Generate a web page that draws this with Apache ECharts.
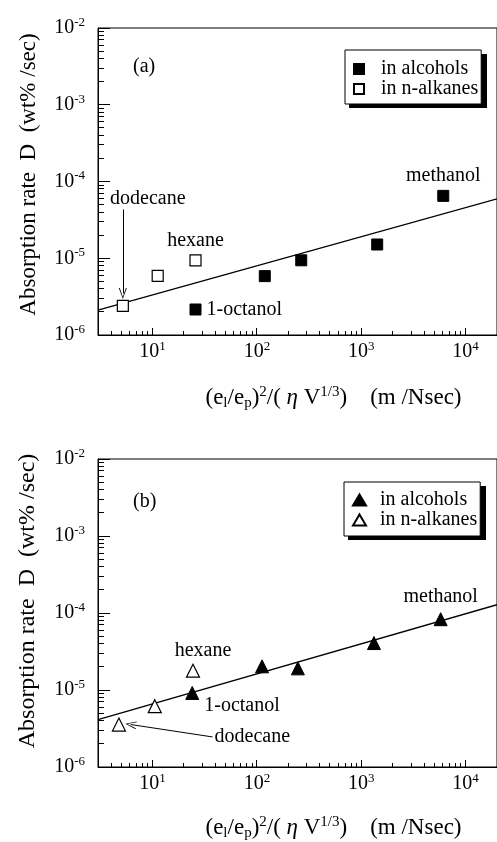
<!DOCTYPE html>
<html>
<head>
<meta charset="utf-8">
<script src="https://cdn.jsdelivr.net/npm/echarts@6/dist/echarts.min.js"></script>
<style>
  html, body { margin: 0; padding: 0; background: #fff; }
  #chart { width: 497px; height: 842px; }
</style>
</head>
<body>
<div id="chart"></div>
<script>
// ---- Panel (a): square markers ----
const aAlcoholX = [25.8, 119, 266, 1422, 6110];
const aAlcoholD = [2.15e-6, 5.85e-6, 9.4e-6, 1.51e-5, 6.5e-5];
const aAlcoholNames = ['1-octanol', '', '', '', 'methanol'];
const aAlkaneX = [5.19, 11.2, 25.8];
const aAlkaneD = [2.4e-6, 5.9e-6, 9.4e-6];
const aAlkaneNames = ['dodecane', '', 'hexane'];
const aFitX = [3, 20000];
const aFitD = [2.11e-6, 5.93e-5];

// ---- Panel (b): triangle markers ----
const bAlcoholX = [24.0, 112, 247, 1324, 5770];
const bAlcoholD = [9.16e-6, 2.03e-5, 1.91e-5, 4.07e-5, 8.31e-5];
const bAlcoholNames = ['1-octanol', '', '', '', 'methanol'];
const bAlkaneX = [4.76, 10.5, 24.4];
const bAlkaneD = [3.56e-6, 6.17e-6, 1.78e-5];
const bAlkaneNames = ['dodecane', '', 'hexane'];
const bFitX = [3, 20000];
const bFitD = [4.13e-6, 1.28e-4];

// ---- Axis ranges and tick marks ----
const xRange = [3, 20000];
const yRange = [1e-6, 1e-2];
const xMajorTicks = [10, 100, 1000, 10000];
const xMinorTicks = [4, 5, 6, 7, 8, 9,
  20, 30, 40, 50, 60, 70, 80, 90,
  200, 300, 400, 500, 600, 700, 800, 900,
  2000, 3000, 4000, 5000, 6000, 7000, 8000, 9000];
const yMajorTicks = [1e-6, 1e-5, 1e-4, 1e-3, 1e-2];
const yMinorTicks = [];
for (let e = -6; e < -2; e++) {
  for (let m = 2; m <= 9; m++) yMinorTicks.push(+(m * Math.pow(10, e)).toPrecision(3));
}

const FONT = '"Liberation Serif", "Times New Roman", serif';
const BLACK = '#000';
const CHEVRON = 'path://M5,0 L10,14 L8.8,14 L5,2.6 L1.2,14 L0,14 Z';

// decade labels as 10 with a raised exponent; other values stay blank
const powLabel = v => {
  const e = Math.log10(v);
  if (Math.abs(e - Math.round(e)) > 1e-6) return '';
  return '{b|10}{s|' + Math.round(e) + '}';
};
const powRich = {
  b: { fontFamily: FONT, fontSize: 20, lineHeight: 24, color: BLACK },
  s: { fontFamily: FONT, fontSize: 13, lineHeight: 13, color: BLACK, verticalAlign: 'top' }
};
const xNameText = '{n|(e}{sub|l}{n|/e}{sub|p}{n|)}{sup|2}{n|/( }{i|η}{n| V}{sup|1/3}{n|)    (m /Nsec)}';
const xNameRich = {
  n: { fontFamily: FONT, fontSize: 23, lineHeight: 26, color: BLACK },
  i: { fontFamily: FONT, fontSize: 23, lineHeight: 26, fontStyle: 'italic', color: BLACK },
  sup: { fontFamily: FONT, fontSize: 15, lineHeight: 14, color: BLACK, verticalAlign: 'top' },
  sub: { fontFamily: FONT, fontSize: 15, lineHeight: 12, color: BLACK, verticalAlign: 'bottom' }
};

const textStyle = { fontFamily: FONT, fontSize: 20, color: BLACK };

function points(xs, ds, names, placement) {
  return xs.map((x, k) => {
    const nm = names[k];
    const item = { value: [x, ds[k]] };
    if (nm && placement[nm]) {
      item.label = Object.assign({ show: true, formatter: nm }, textStyle, placement[nm]);
    }
    return item;
  });
}

function buildPanel(p) {
  const i = p.index;
  const grid = {
    left: 98, top: p.top, width: 403, height: p.height,
    show: true, borderColor: BLACK, borderWidth: 1, backgroundColor: 'transparent'
  };
  const xAxis = {
    type: 'log', logBase: 10, gridIndex: i, min: xRange[0], max: xRange[1], position: 'bottom',
    axisLine: { show: true, onZero: false, lineStyle: { color: BLACK, width: 1 } },
    axisTick: { show: false }, minorTick: { show: false },
    axisLabel: { show: true, margin: 5, formatter: powLabel, rich: powRich, showMinLabel: false, showMaxLabel: false },
    splitLine: { show: false }, minorSplitLine: { show: false },
    name: xNameText, nameLocation: 'middle', nameGap: p.xNameGap,
    nameTextStyle: { rich: xNameRich, padding: [0, 0, 0, 72] }
  };
  const yAxis = {
    type: 'log', logBase: 10, gridIndex: i, min: yRange[0], max: yRange[1], position: 'left',
    axisLine: { show: true, onZero: false, lineStyle: { color: BLACK, width: 1 } },
    axisTick: { show: false }, minorTick: { show: false },
    axisLabel: { show: true, margin: 13, formatter: powLabel, rich: powRich },
    splitLine: { show: false }, minorSplitLine: { show: false },
    name: 'Absorption rate  D  (wt% /sec)', nameLocation: 'middle', nameRotate: 90, nameGap: p.yNameGap,
    nameTextStyle: { fontFamily: FONT, fontSize: p.yNameSize, color: BLACK, padding: [0, 0, 0, p.yNameShift] }
  };

  const ax = { xAxisIndex: i, yAxisIndex: i };
  const series = [
    Object.assign({
      type: 'line', name: 'fit ' + p.tag, z: 1, silent: true,
      showSymbol: false, symbol: 'none',
      lineStyle: { color: BLACK, width: 1.3 },
      data: p.fitX.map((x, k) => [x, p.fitD[k]])
    }, ax),
    Object.assign({
      type: 'scatter', name: 'alcohols ' + p.tag, z: 3, silent: true,
      symbol: p.symbol, symbolSize: p.size,
      itemStyle: { color: BLACK, borderColor: BLACK, borderWidth: 1, opacity: 1 },
      data: points(p.alcX, p.alcD, p.alcNames, p.placement)
    }, ax),
    Object.assign({
      type: 'scatter', name: 'n-alkanes ' + p.tag, z: 3, silent: true,
      symbol: p.symbol, symbolSize: p.size,
      itemStyle: { color: '#fff', borderColor: BLACK, borderWidth: 1.2, opacity: 1 },
      data: points(p.alkX, p.alkD, p.alkNames, p.placement),
      markLine: {
        silent: true, animation: false,
        symbol: ['none', CHEVRON], symbolSize: [8, 11],
        lineStyle: { color: BLACK, width: 1, type: 'solid' },
        emphasis: { disabled: true },
        label: Object.assign({ show: true, position: 'start', formatter: 'dodecane' }, textStyle, p.arrowLabel),
        data: [p.arrow]
      }
    }, ax)
  ];

  const legend = {
    left: p.legendLeft, top: p.legendTop, orient: 'vertical', itemGap: 0, z: 6,
    itemWidth: p.legendIcon[0], itemHeight: p.legendIcon[1],
    padding: p.legendPad, backgroundColor: '#fff', borderColor: BLACK, borderWidth: 1,
    selectedMode: false,
    data: ['alcohols ' + p.tag, 'n-alkanes ' + p.tag],
    formatter: n => 'in ' + n.replace(' ' + p.tag, ''),
    textStyle: { fontFamily: FONT, fontSize: 20, lineHeight: 17, color: BLACK, padding: [0, 0, 0, p.legendTextPad] }
  };

  // solid drop shadow behind the legend box
  const legendShadow = {
    type: 'rect', id: 'shadow' + i, z: 5, silent: true,
    shape: { x: p.legendLeft + 4, y: p.legendTop + 4, width: 138, height: 54 },
    style: { fill: BLACK }
  };

  const title = {
    text: p.tag, left: 133, top: p.tagTop, padding: 0,
    textStyle: { fontFamily: FONT, fontSize: 20, fontWeight: 'normal', color: BLACK }
  };

  return { grid, xAxis, yAxis, series, legend, legendShadow, title };
}

const dA = aAlkaneD[0], xA = aAlkaneX[0];
const dB = bAlkaneD[0], xB = bAlkaneX[0];

const panels = [
  buildPanel({
    index: 0, tag: '(a)', top: 28, height: 307, xNameGap: 50, yNameGap: 58, yNameSize: 23, yNameShift: 14,
    symbol: 'rect', size: 11, legendLeft: 345, legendTop: 50, legendIcon: [10, 10], legendPad: [9, 3, 5, 8], legendTextPad: 12,
    tagTop: 57,
    alcX: aAlcoholX, alcD: aAlcoholD, alcNames: aAlcoholNames,
    alkX: aAlkaneX, alkD: aAlkaneD, alkNames: aAlkaneNames,
    fitX: aFitX, fitD: aFitD,
    placement: {
      '1-octanol': { position: 'right', distance: 5 },
      'methanol': { position: 'top', distance: 4 },
      'hexane': { position: 'top', distance: 3 }
    },
    arrow: [{ coord: [xA, dA * 18] }, { coord: [xA, dA * 1.45] }],
    arrowLabel: { distance: 1, padding: [0, 0, 0, 50] }
  }),
  buildPanel({
    index: 1, tag: '(b)', top: 459, height: 309, xNameGap: 48, yNameGap: 58, yNameSize: 24, yNameShift: 24,
    symbol: 'triangle', size: 13, legendLeft: 344, legendTop: 482, legendIcon: [13, 11], legendPad: [8, 3, 6, 8], legendTextPad: 9,
    tagTop: 492,
    alcX: bAlcoholX, alcD: bAlcoholD, alcNames: bAlcoholNames,
    alkX: bAlkaneX, alkD: bAlkaneD, alkNames: bAlkaneNames,
    fitX: bFitX, fitD: bFitD,
    placement: {
      '1-octanol': { position: 'right', distance: 5, offset: [0, 13] },
      'methanol': { position: 'top', distance: 5 },
      'hexane': { position: 'top', distance: 3, offset: [10, 0] }
    },
    arrow: [{ coord: [xB * 7.9, dB * 0.69] }, { coord: [xB * 1.3, dB * 1.0] }],
    arrowLabel: { distance: 2 }
  })
];

const chart = echarts.init(document.getElementById('chart'), null, { renderer: 'canvas' });
chart.setOption({
  backgroundColor: '#fff',
  animation: false,
  title: panels.map(p => p.title),
  legend: panels.map(p => p.legend),
  graphic: panels.map(p => p.legendShadow),
  grid: panels.map(p => p.grid),
  xAxis: panels.map(p => p.xAxis),
  yAxis: panels.map(p => p.yAxis),
  series: panels.flatMap(p => p.series)
});

// inward tick marks, positioned through each panel's log axes
const tickGraphics = [];
panels.forEach((p, i) => {
  const finder = { xAxisIndex: i, yAxisIndex: i };
  const addX = (v, len) => {
    const pt = chart.convertToPixel(finder, [v, yRange[0]]);
    if (!pt || !isFinite(pt[0])) return;
    tickGraphics.push({
      type: 'rect', z: 10, silent: true,
      shape: { x: Math.floor(pt[0]), y: Math.round(pt[1]) - len, width: 1, height: len },
      style: { fill: BLACK }
    });
  };
  const addY = (v, len) => {
    const pt = chart.convertToPixel(finder, [xRange[0], v]);
    if (!pt || !isFinite(pt[1])) return;
    tickGraphics.push({
      type: 'rect', z: 10, silent: true,
      shape: { x: Math.round(pt[0]), y: Math.floor(pt[1]), width: len, height: 1 },
      style: { fill: BLACK }
    });
  };
  xMajorTicks.forEach(v => addX(v, 7));
  xMinorTicks.forEach(v => addX(v, 4));
  yMajorTicks.forEach(v => addY(v, 12));
  yMinorTicks.forEach(v => addY(v, 6));
});
chart.setOption({ graphic: panels.map(p => p.legendShadow).concat(tickGraphics) });
</script>
</body>
</html>
